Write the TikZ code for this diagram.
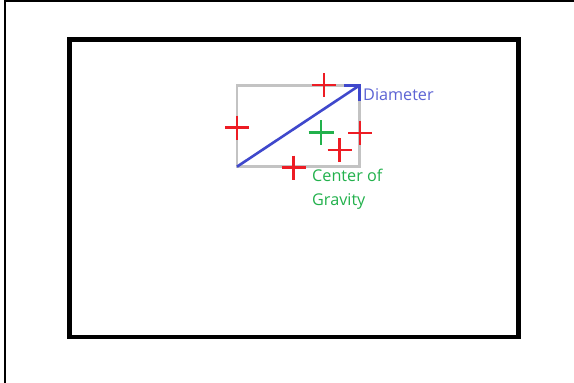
\documentclass[tikz,border=0pt]{standalone}
\usepackage{fontspec}
\setmainfont{Open Sans}
\usetikzlibrary{positioning}
\definecolor{pRed}{RGB}{237,28,36}
\definecolor{pGreen}{RGB}{34,177,76}
\definecolor{pBlue}{RGB}{63,72,204}
\definecolor{pGray}{RGB}{195,195,195}
\tikzset{
    % outer page edge
    edgeline/.style={line width=2pt, black},
    frameline/.style={line width=4.4pt, black},
    boxline/.style={line width=2.6pt, pGray},
    diamline/.style={line width=2.6pt, pBlue, line join=miter},
    redcross/.style={line width=2.3pt, pRed},
    greencross/.style={line width=2.3pt, pGreen},
    labeltext/.style={inner sep=0pt, font=\fontsize{16.2}{19}\selectfont}
}
\begin{document}
\begin{tikzpicture}[x=1pt,y=-1pt]
    \useasboundingbox (0,0) rectangle (574,383);
    \fill[white] (0,0) rectangle (574,383);
    \draw[edgeline] (4.8,383) -- (4.8,1.3) -- (574,1.3);
    \draw[frameline] (69.5,39.5) rectangle (518.5,337);
    % rectangle round the shape
    \coordinate (boxsw) at (237,166.7);
    \coordinate (boxne) at (359.3,85.5);
    \draw[boxline] (boxsw) rectangle (boxne);
    \draw[diamline] (boxsw) -- (boxne);
    \draw[diamline] ([xshift=-15pt]boxne) -- (boxne) -- ([yshift=-15pt]boxne);
    \foreach \cx/\cy in {324/85.3, 237/127.5, 360/133, 339.5/150, 293.5/167.5}
        \draw[redcross] (\cx-12,\cy) -- (\cx+12,\cy) (\cx,\cy-12) -- (\cx,\cy+12);
    \draw[greencross] (308.5,132.5) -- (333.5,132.5) (321,120) -- (321,145);
    \node[labeltext, pBlue!85!white, anchor=base west] (diam) at (363,100) {Diameter};
    \node[labeltext, pGreen, anchor=base west] (cogA) at (312,181.7) {Center of};
    \node[labeltext, pGreen, anchor=base west] (cogB) at (312,205.2) {Gravity};
\end{tikzpicture}
\end{document}
